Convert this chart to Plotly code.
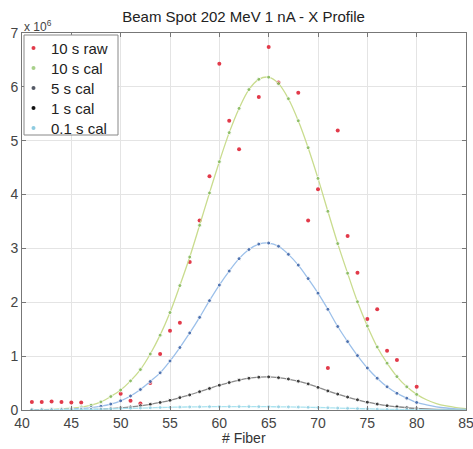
import plotly.graph_objects as go

# Fiber positions for the calibrated profiles
fibers = list(range(41, 86))

# Values in units of 1e6
cal_10s = [0.005, 0.008, 0.013, 0.022, 0.035, 0.055, 0.09, 0.15, 0.25, 0.37,
           0.54, 0.75, 1.04, 1.39, 1.81, 2.31, 2.84, 3.43, 4.03, 4.61,
           5.15, 5.60, 5.95, 6.14, 6.18, 6.06, 5.78, 5.37, 4.87, 4.30,
           3.69, 3.09, 2.54, 2.01, 1.56, 1.17, 0.87, 0.62, 0.43, 0.29,
           0.19, 0.12, 0.075, 0.045, 0.027]
cal_5s = [0.003, 0.004, 0.007, 0.011, 0.018, 0.028, 0.045, 0.07, 0.11, 0.17,
          0.26, 0.38, 0.53, 0.69, 0.91, 1.16, 1.43, 1.72, 2.03, 2.32,
          2.58, 2.81, 2.98, 3.08, 3.10, 3.04, 2.89, 2.69, 2.44, 2.17,
          1.87, 1.55, 1.27, 1.01, 0.78, 0.59, 0.43, 0.31, 0.22, 0.14,
          0.095, 0.06, 0.037, 0.022, 0.013]
cal_1s = [0.001, 0.001, 0.002, 0.003, 0.004, 0.006, 0.01, 0.016, 0.026, 0.04,
          0.056, 0.077, 0.105, 0.14, 0.18, 0.23, 0.28, 0.34, 0.40, 0.46,
          0.51, 0.555, 0.59, 0.61, 0.615, 0.60, 0.575, 0.535, 0.485, 0.42,
          0.355, 0.295, 0.24, 0.19, 0.145, 0.11, 0.08, 0.06, 0.042, 0.028,
          0.019, 0.012, 0.008, 0.005, 0.003]
cal_01s = [0.002, 0.003, 0.004, 0.005, 0.007, 0.009, 0.012, 0.016, 0.021, 0.026,
           0.031, 0.036, 0.041, 0.046, 0.050, 0.054, 0.057, 0.059, 0.061, 0.062,
           0.063, 0.063, 0.063, 0.062, 0.061, 0.059, 0.057, 0.054, 0.050, 0.046,
           0.041, 0.036, 0.031, 0.026, 0.021, 0.016, 0.012, 0.009, 0.007, 0.005,
           0.004, 0.003, 0.002, 0.002, 0.001]

# Raw 10 s data (visible points)
raw_fibers = [41, 42, 43, 44, 45, 46, 50, 51, 52, 53, 54, 55, 56, 57, 58, 59, 60,
              61, 62, 64, 65, 66, 68, 69, 70, 71, 72, 73, 74, 75, 76, 77, 78, 80]
raw_10s = [0.15, 0.15, 0.16, 0.15, 0.14, 0.14, 0.30, 0.17, 0.12, 0.50, 1.04, 1.47,
           1.62, 2.75, 3.52, 4.34, 6.43, 5.37, 4.84, 5.81, 6.74, 6.08, 5.89, 3.52,
           4.10, 0.78, 5.19, 3.23, 2.55, 1.69, 1.87, 1.10, 0.93, 0.43]

series_names = ["10 s raw", "10 s cal", "5 s cal", "1 s cal", "0.1 s cal"]

x_ticks = [40, 45, 50, 55, 60, 65, 70, 75, 80, 85]
y_ticks = [0, 1, 2, 3, 4, 5, 6, 7]
y_ticktext = ["0", "1", "2", "3", "4", "5", "6", "7"]

W, H = 473, 449
ML, MR, MT, MB = 22, 7, 33, 39
PW, PH = W - ML - MR, H - MT - MB

def px(xp):
    return (xp - ML) / PW

def py(yp):
    return (H - MB - yp) / PH

last_marker_fiber = 80
msize = [4 if f <= last_marker_fiber else 0 for f in fibers]

FONT = "Liberation Sans, Arial, sans-serif"

fig = go.Figure()

cal_series = [
    (series_names[1], cal_10s, "#c9dc8e", "#74b04c"),
    (series_names[2], cal_5s, "#9cc0ea", "#27509a"),
    (series_names[3], cal_1s, "#8a8a8a", "#111111"),
    (series_names[4], cal_01s, "#a9e3f0", "#8ecbe0"),
]
legend_colors = ["#e23a4a", "#a8d08a", "#555a66", "#111111", "#8ecbe0"]

fig.add_trace(go.Scatter(x=raw_fibers, y=raw_10s, mode="markers", name=series_names[0],
                         marker=dict(color="#e23a4a", size=4), showlegend=False))

for name, vals, lc, mc in cal_series:
    fig.add_trace(go.Scatter(x=fibers, y=vals, mode="lines", line=dict(color=lc, width=1.3, shape="spline"),
                             showlegend=False, hoverinfo="skip"))
    fig.add_trace(go.Scatter(x=fibers, y=vals, mode="markers", name=name,
                             marker=dict(color=mc, size=msize), showlegend=False))

fig.update_layout(
    width=W, height=H,
    margin=dict(l=ML, r=MR, t=MT, b=MB, autoexpand=False),
    paper_bgcolor="white", plot_bgcolor="white",
    font=dict(family=FONT, size=14, color="#333333"),
    title=dict(text="Beam Spot 202 MeV 1 nA - X Profile", x=0.515, xanchor="center",
               y=0.962, yanchor="middle", font=dict(size=15, color="#222222")),
    showlegend=False,
)

fig.update_xaxes(range=[40, 85], tickvals=x_ticks, showgrid=True, gridcolor="#e4e4e4",
                 zeroline=False, showline=True, linecolor="#777777", mirror="ticks",
                 ticks="inside", ticklen=4, tickcolor="#777777", automargin=False,
                 ticklabeloverflow="allow",
                 tickfont=dict(size=14, color="#444444"))
fig.update_yaxes(range=[0, 7], tickvals=y_ticks, ticktext=y_ticktext, showgrid=True,
                 gridcolor="#e4e4e4", zeroline=False, showline=True, linecolor="#777777",
                 mirror="ticks", ticks="inside", ticklen=4, tickcolor="#777777",
                 automargin=False, tickfont=dict(size=14, color="#444444"))

# Custom legend box (MATLAB style)
fig.add_shape(type="rect", xref="paper", yref="paper",
              x0=px(24), x1=px(118), y0=py(135), y1=py(35),
              line=dict(color="#888888", width=1), fillcolor="white", layer="above")
for i, (nm, col) in enumerate(zip(series_names, legend_colors)):
    yc = 48 + 20 * i
    fig.add_shape(type="circle", xref="paper", yref="paper",
                  x0=px(31.5), x1=px(35.5), y0=py(yc + 2), y1=py(yc - 2),
                  line=dict(width=0), fillcolor=col, layer="above")
    fig.add_annotation(text=nm, xref="paper", yref="paper", x=px(49), y=py(yc),
                       xanchor="left", yanchor="middle", showarrow=False,
                       font=dict(size=15, color="#222222"))

fig.add_annotation(text="# Fiber", xref="paper", yref="paper", x=0.5, y=0,
                   xanchor="center", yanchor="middle", showarrow=False, yshift=-28,
                   font=dict(size=14, color="#333333"))
fig.add_annotation(text="x 10<sup>6</sup>", xref="paper", yref="paper", x=0.0, y=1.0,
                   xanchor="left", yanchor="bottom", showarrow=False,
                   font=dict(size=12, color="#444444"), yshift=-3)

fig.write_html("out.html", config={"displayModeBar": False},
               post_script="document.body.style.margin='0';document.body.style.overflow='hidden';")
